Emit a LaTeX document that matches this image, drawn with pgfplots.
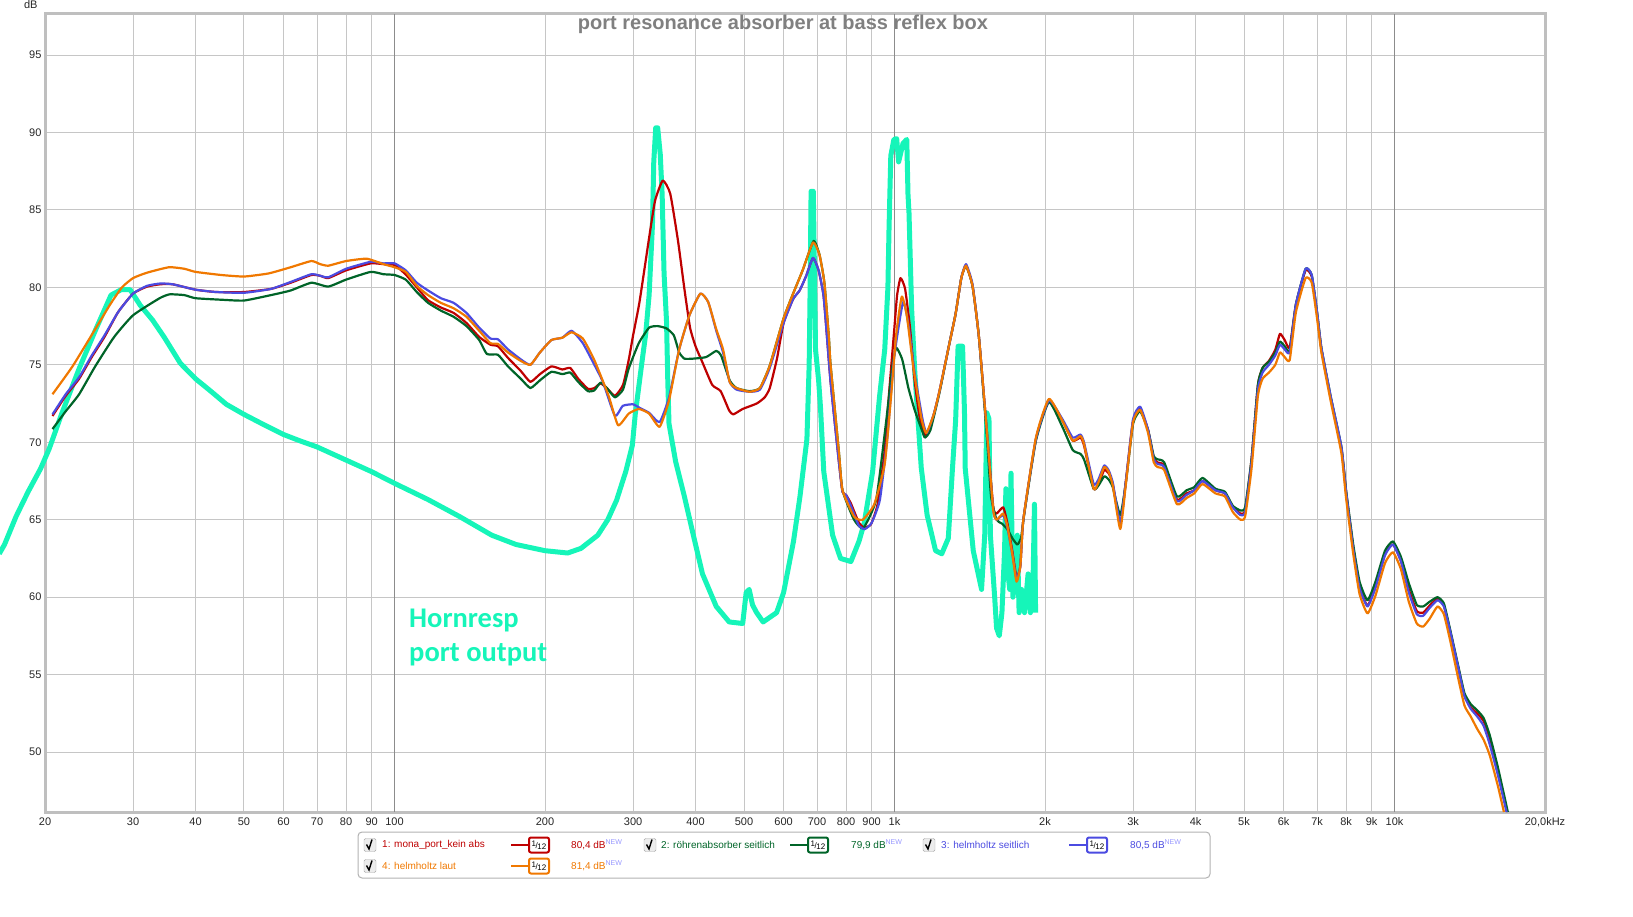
\documentclass[border=0pt]{standalone}
\usepackage{fontspec}
\setmainfont{Liberation Sans}
\newfontfamily\hornfont{Carlito}
\usepackage{pgfplots}
\pgfplotsset{compat=1.18}

\definecolor{cRed}{RGB}{190,0,0}
\definecolor{cGreen}{RGB}{0,100,40}
\definecolor{cBlue}{RGB}{75,75,225}
\definecolor{cOrange}{RGB}{240,120,0}
\definecolor{cHorn}{RGB}{22,245,185}
\definecolor{cNew}{RGB}{150,150,255}

% legend pieces (REW style)
\newcommand{\chkbox}[2]{%
  \draw[gray!70, fill=gray!15, rounded corners=1.5pt] (#1-6pt,#2-6.5pt) rectangle (#1+6pt,#2+6.5pt);
  \draw[black, line width=1.4pt] (#1-3.5pt,#2+0.5pt) -- (#1-1pt,#2-4pt) -- (#1+2pt,#2+5.5pt);}
\newcommand{\smoothsym}[3]{%
  \draw[#3, line width=2pt] (#1-17pt,#2) -- (#1+17pt,#2);
  \node[draw=#3, line width=2pt, fill=white, rounded corners=2pt, minimum width=20pt,
        minimum height=15pt, inner sep=0pt] at (#1,#2)
        {\fontsize{8}{8}\selectfont\raisebox{2pt}{1}\kern-0.5pt/\kern-0.5pt\raisebox{-1.5pt}{12}};}

\begin{document}
\begin{tikzpicture}
\useasboundingbox (0pt,0pt) rectangle (1633pt,916pt);
\begin{axis}[
  at={(45pt,104pt)}, anchor=south west,
  scale only axis, width=1500pt, height=798pt,
  xmode=log, xmin=20, xmax=20000, ymin=46.13, ymax=97.65,
  xtick={20,30,40,50,60,70,80,90,100,200,300,400,500,600,700,800,900,1000,2000,3000,4000,5000,6000,7000,8000,9000,10000,20000},
  xticklabels={20,30,40,50,60,70,80,90,100,200,300,400,500,600,700,800,900,1k,2k,3k,4k,5k,6k,7k,8k,9k,10k,{20,0kHz}},
  ytick={50,55,...,95},
  grid=major,
  major grid style={gray!45, line width=1pt},
  extra x ticks={100,1000,10000},
  extra x tick labels={},
  extra x tick style={major grid style={gray!90, line width=1pt}},
  major tick length=0pt,
  axis line style={gray!50, line width=3pt},
  tick label style={font=\fontsize{11}{13}\selectfont, text=black!85},
  xticklabel style={yshift=-2pt},
  /pgf/number format/assume math mode=true,
  clip=false,
  every axis plot/.append style={no markers, line join=round},
  rew/.style={line width=2.2pt, smooth, tension=0.3},
]
% Hornresp port output (pasted trace)
\addplot[cHorn, line width=5pt] coordinates {
(16.2,62.8)(16.6,63.4)(17.5,65.2)(18.5,66.8)(19.6,68.3)(20.4,69.6)(21.6,71.85)(23.4,74.75)(25.2,77.2)
(27.1,79.5)(28.4,79.85)(29.6,79.85)(31,78.85)(32.8,77.9)(34.6,76.8)(37.3,75.1)(40,74.1)(42.9,73.3)
(46.1,72.45)(50,71.8)(54.3,71.2)(60,70.5)(64.6,70.1)(70,69.7)(80,68.85)(90,68.1)(100,67.35)(116.7,66.3)
(135,65.2)(156.5,64.0)(175,63.4)(200,63.0)(222,62.85)(236,63.15)(255,64.0)(267,65.0)(278,66.25)(290,68.1)
(299,69.8)(303,71.8)(312,75)(318,77)(323,79.5)(328,84)(330,88.1)(333,90.3)(336,90.3)(340,88.6)(343,86)
(346,80.9)(350,77.8)(352,74)(354,71.2)(365,68.75)(380,66.5)(396,64.0)(413,61.5)(440,59.4)(467,58.4)
(497,58.3)(505,60.3)(512,60.5)(520,59.5)(530,59.0)(546,58.4)(581,59.0)(600,60.3)(628,63.6)(647,66.5)
(668,70.2)(675,75)(678,80)(681,86.2)(688,86.2)(691,82)(695,76)(705,74)(711,72.3)(722,68.1)(752,64.0)
(780,62.5)(818,62.3)(849,63.6)(870,64.8)(904,68.1)(933,72.9)(956,76.0)(970,80)(975,83.8)(983,88.5)
(997,89.55)(1010,89.6)(1019,88.1)(1040,89.3)(1058,89.55)(1064,86)(1069,84.8)(1082,78.6)(1098,74.5)
(1131,68.35)(1162,65.3)(1208,63.0)(1243,62.8)(1281,63.8)(1306,68.35)(1325,71.4)(1340,76.2)(1368,76.2)
(1380,72)(1385,68.3)(1437,63.0)(1493,60.5)(1515,64)(1530,71.9)(1545,71.5)(1555,64)(1586,60)(1600,58)
(1620,57.5)(1640,59)(1660,63)(1670,67)(1680,62)(1700,60.5)(1710,68)(1725,60)(1740,61)(1760,64)
(1775,59)(1795,60.5)(1820,59)(1850,61.5)(1870,59)(1890,60)(1905,66)(1915,59)
};
% 1: mona_port_kein abs
\addplot[cRed, rew] coordinates {
(20.7,71.7)(22,73.0)(23.4,74.1)(24.8,75.5)(26.3,76.8)(28,78.4)(30,79.6)(32,80.05)(34,80.2)(36,80.2)(40,79.85)
(44,79.7)(50,79.7)(56.6,79.9)(62,80.3)(68.2,80.8)(71,80.75)(73.7,80.6)(80,81.1)(89.6,81.55)(95,81.5)
(100,81.45)(105.3,80.83)(110.8,80.0)(116.7,79.17)(123.8,78.7)(131.3,78.35)(139.3,77.7)(147.7,76.8)
(155.5,76.3)(161,76.2)(168.6,75.45)(178.9,74.6)(187,73.9)(195.4,74.4)(206,74.9)(216.6,74.7)(224.6,74.8)
(233,74.1)(243.7,73.45)(251,73.5)(258.2,73.8)(265.8,73.5)(276,73.0)(286.4,73.7)(294,75.3)(300,76.9)
(309,79.05)(323,83.2)(332,85.6)(344,86.9)(356,86.05)(369,83.0)(380,79.9)(390,77.4)(400,76.2)(413,75.15)
(432,73.7)(449,73.3)(467,72.05)(476,71.8)(497,72.15)(530,72.5)(550,72.9)(563,73.5)(582,75.4)(600,77.7)
(627,79.25)(646,79.8)(665,80.7)(687,81.9)(705,81.1)(721,79.5)(732,77.0)(745,73.9)(774,68.75)(787,66.8)
(800,66.6)(818,66.05)(849,64.8)(870,64.5)(897,64.7)(925,66.0)(956,69.5)(977,73.5)(1000,77.5)(1012,79.5)
(1028,80.6)(1050,79.9)(1074,77.4)(1096,74.1)(1120,71.8)(1145,70.6)(1162,70.5)(1198,71.8)(1230,73.3)
(1288,76.4)(1325,78.3)(1360,80.6)(1390,81.4)(1432,80.1)(1475,76.8)(1531,70.6)(1576,65.8)(1600,65.4)
(1650,65.8)(1681,64.8)(1720,63.0)(1754,61.3)(1785,62.0)(1810,65.0)(1918,70.2)(2036,72.7)(2166,71.4)
(2272,70.1)(2354,70.3)(2393,69.8)(2502,67.0)(2557,67.3)(2626,68.2)(2680,68.0)(2732,67.3)(2828,64.7)
(2902,67.5)(3000,71.4)(3100,72.15)(3214,70.8)(3300,69.0)(3359,68.7)(3463,68.5)(3672,66.3)(3838,66.7)
(3976,66.9)(4130,67.5)(4383,66.9)(4580,66.7)(4748,65.85)(4917,65.4)(5025,65.6)(5176,68.9)(5330,73.7)
(5446,74.8)(5608,75.25)(5775,75.97)(5900,77.0)(6030,76.6)(6170,76.1)(6350,78.9)(6640,81.1)(6830,80.7)
(7000,78.3)(7140,76.0)(7460,72.8)(7830,69.6)(8000,66.8)(8268,63.2)(8513,60.7)(8830,59.45)(9160,60.7)
(9570,62.8)(9927,63.4)(10300,62.35)(10680,60.5)(11080,59.1)(11410,59.0)(11750,59.45)(12190,59.9)
(12550,59.45)(12920,57.8)(13400,55.5)(13800,53.65)(14200,52.9)(14630,52.5)(15070,52.0)(15500,50.9)
(16100,48.8)(16800,46.13)
};
% 2: roehrenabsorber seitlich
\addplot[cGreen, rew] coordinates {
(20.7,70.85)(22,72.0)(23.4,73.1)(25.2,74.9)(27.5,76.8)(30,78.2)(33.9,79.3)(35.5,79.55)(38,79.5)(40,79.3)
(45.2,79.2)(50,79.15)(56.6,79.5)(62,79.8)(68.2,80.3)(73.7,80.05)(80,80.5)(89.6,81.0)(95,80.85)(100,80.8)
(105.3,80.5)(110.8,79.7)(116.7,79.0)(123.8,78.5)(131.3,78.1)(139.3,77.5)(147.7,76.6)(153,75.7)(161,75.65)
(168.6,74.9)(178.9,74.1)(187,73.5)(195.4,74.0)(206,74.55)(216.6,74.4)(224.6,74.5)(233,73.9)(243.7,73.3)
(251,73.35)(258.2,73.85)(265.8,73.5)(276,72.9)(286.4,73.4)(294,74.75)(308,76.4)(323,77.4)(336,77.5)
(350,77.35)(362,76.9)(371,75.8)(380,75.4)(396,75.4)(420,75.5)(440,75.9)(450,75.6)(468,74.0)(483,73.5)
(513,73.3)(538,73.5)(563,74.95)(600,78.0)(627,79.6)(655,81.1)(689,83.0)(708,82.1)(724,80.3)(739,76.8)
(745,75.0)(774,69.4)(787,66.9)(830,65.0)(866,64.45)(919,66.3)(961,71.2)(990,74.9)(1008,76.1)(1036,75.35)
(1066,73.5)(1098,72.05)(1131,70.9)(1150,70.3)(1180,70.8)(1230,73.2)(1288,76.4)(1325,78.3)(1360,80.6)
(1390,81.4)(1432,80.1)(1475,76.8)(1531,70.2)(1560,66.5)(1600,65.0)(1640,64.75)(1680,64.4)(1721,63.8)
(1760,63.4)(1790,63.8)(1820,65.5)(1918,70.1)(2036,72.6)(2166,71.0)(2272,69.5)(2354,69.25)(2393,68.9)
(2502,67.0)(2557,67.2)(2626,67.8)(2680,67.6)(2732,67.1)(2828,65.3)(2902,67.4)(3000,71.2)(3100,72.0)
(3214,70.8)(3300,69.1)(3359,68.9)(3463,68.7)(3672,66.5)(3838,66.9)(3976,67.1)(4130,67.7)(4383,67.0)
(4580,66.8)(4748,65.9)(4917,65.6)(5025,65.8)(5176,68.9)(5330,73.7)(5446,74.8)(5608,75.2)(5775,75.8)
(5900,76.5)(6030,76.2)(6170,75.9)(6350,78.9)(6640,81.2)(6830,80.8)(7000,78.4)(7140,76.1)(7460,72.9)
(7830,69.7)(8000,66.9)(8268,63.4)(8513,61.0)(8830,59.8)(9160,61.0)(9570,63.0)(9927,63.6)(10300,62.6)
(10680,60.9)(11080,59.5)(11410,59.4)(11750,59.7)(12190,60.0)(12550,59.6)(12920,57.9)(13400,55.6)
(13800,53.8)(14200,53.1)(14630,52.7)(15070,52.2)(15500,51.1)(16100,49.0)(16850,46.13)
};
% 3: helmholtz seitlich
\addplot[cBlue, rew] coordinates {
(20.7,71.8)(22,73.1)(23.4,74.2)(24.8,75.6)(26.3,76.9)(28,78.4)(30,79.6)(32,80.1)(34,80.25)(36,80.2)
(40,79.85)(44,79.7)(50,79.65)(56.6,79.9)(62,80.35)(68.2,80.85)(71,80.75)(73.7,80.65)(80,81.2)(89.6,81.65)
(95,81.55)(100,81.55)(105.3,81.1)(110.8,80.3)(116.7,79.8)(123.8,79.3)(131.3,79.0)(139.3,78.35)(147.7,77.4)
(155.5,76.7)(161,76.65)(168.6,76.0)(178.9,75.35)(187,75.0)(195.4,75.8)(206,76.6)(216.6,76.75)(226,77.2)
(238,76.4)(251,75.0)(261,73.9)(276,71.7)(286,72.35)(300,72.45)(310,72.2)(323,71.9)(339,71.3)(354,72.9)
(371,76.0)(389,78.2)(409,79.6)(424,79.05)(440,77.2)(454,75.8)(468,73.9)(483,73.4)(513,73.26)(538,73.4)
(563,74.8)(600,77.7)(627,79.25)(646,79.8)(665,80.7)(687,81.9)(705,81.1)(721,79.5)(732,77.0)(745,73.9)
(774,68.75)(787,66.8)(800,66.6)(818,65.9)(849,64.6)(873,64.4)(900,64.8)(935,66.3)(968,70.4)(997,75.35)
(1040,79.05)(1066,77.6)(1098,74.4)(1139,71.4)(1160,70.6)(1198,71.8)(1230,73.3)(1288,76.4)(1325,78.3)
(1360,80.6)(1390,81.5)(1432,80.2)(1475,76.8)(1531,70.6)(1576,65.6)(1600,65.0)(1650,65.3)(1681,64.5)
(1720,62.8)(1754,61.2)(1785,62.0)(1810,65.0)(1918,70.2)(2036,72.7)(2166,71.5)(2272,70.3)(2354,70.5)
(2393,70.0)(2502,67.3)(2557,67.6)(2626,68.5)(2680,68.2)(2732,67.4)(2828,64.8)(2902,67.5)(3000,71.5)
(3100,72.3)(3214,70.8)(3300,68.9)(3359,68.6)(3463,68.4)(3672,66.2)(3838,66.6)(3976,66.9)(4130,67.5)
(4383,66.9)(4580,66.7)(4748,65.8)(4917,65.3)(5025,65.5)(5176,68.7)(5330,73.4)(5446,74.5)(5608,75.0)
(5775,75.6)(5900,76.3)(6030,76.0)(6170,75.8)(6350,78.9)(6640,81.2)(6830,80.8)(7000,78.4)(7140,76.1)
(7460,72.9)(7830,69.7)(8000,66.8)(8268,63.1)(8513,60.6)(8830,59.4)(9160,60.6)(9570,62.7)(9927,63.4)
(10300,62.3)(10680,60.3)(11080,58.9)(11410,58.8)(11750,59.3)(12190,59.8)(12550,59.4)(12920,57.8)
(13400,55.5)(13800,53.6)(14200,52.8)(14630,52.3)(15070,51.7)(15500,50.5)(16100,48.5)(16750,46.13)
};
% 4: helmholtz laut
\addplot[cOrange, rew] coordinates {
(20.7,73.1)(22.7,74.9)(25.2,77.3)(27,78.9)(28.5,80.0)(30,80.6)(32,80.95)(35.4,81.3)(38,81.2)(40,81.0)
(45,80.8)(50,80.7)(56,80.9)(62,81.3)(68.2,81.7)(71,81.5)(73.7,81.4)(80,81.7)(88,81.85)(95,81.5)(100,81.3)
(105.3,81.0)(110.8,80.1)(116.7,79.5)(123.8,79.0)(131.3,78.65)(139.3,78.1)(147.7,77.2)(155.5,76.4)
(161,76.35)(168.6,75.8)(178.9,75.25)(187,75.0)(195.4,75.8)(206,76.6)(216.6,76.75)(226,77.1)(238,76.7)
(251,75.3)(268,73.0)(280,71.1)(294,71.85)(308,72.15)(323,71.85)(339,71.0)(354,72.7)(371,76.0)(389,78.2)
(409,79.6)(424,79.05)(440,77.3)(454,76.0)(468,73.9)(483,73.5)(513,73.26)(538,73.5)(563,74.95)(600,78.0)
(627,79.6)(655,81.1)(687,82.9)(708,82.1)(724,80.3)(739,76.8)(745,75.0)(774,69.4)(787,66.9)(830,65.2)
(864,65.0)(911,66.0)(956,68.6)(985,73.1)(1008,77.0)(1034,79.4)(1058,78.2)(1090,74.9)(1131,71.6)
(1157,70.6)(1198,71.8)(1230,73.3)(1288,76.4)(1325,78.3)(1360,80.6)(1390,81.4)(1432,80.1)(1475,76.8)
(1531,70.6)(1576,65.6)(1600,65.0)(1650,65.4)(1681,64.6)(1720,62.8)(1754,61.0)(1785,62.0)(1810,65.0)
(1918,70.3)(2036,72.8)(2166,71.4)(2272,70.1)(2354,70.4)(2393,69.9)(2502,67.0)(2557,67.4)(2626,68.4)
(2680,68.1)(2732,67.2)(2828,64.4)(2902,67.3)(3000,71.3)(3100,72.1)(3214,70.6)(3300,68.7)(3359,68.4)
(3463,68.2)(3672,66.0)(3838,66.4)(3976,66.7)(4130,67.3)(4383,66.7)(4580,66.5)(4748,65.5)(4917,65.0)
(5025,65.2)(5176,68.3)(5330,73.0)(5446,74.1)(5608,74.5)(5775,75.0)(5900,75.8)(6030,75.5)(6170,75.3)
(6350,78.4)(6640,80.6)(6830,80.3)(7000,78.0)(7140,75.8)(7460,72.6)(7830,69.3)(8000,66.4)(8268,62.8)
(8513,60.2)(8830,58.95)(9160,60.1)(9570,62.2)(9927,62.9)(10300,61.8)(10680,59.7)(11080,58.3)(11410,58.1)
(11750,58.6)(12190,59.4)(12550,58.9)(12920,57.2)(13400,54.8)(13800,53.0)(14200,52.3)(14630,51.5)
(15070,50.8)(15500,49.8)(16100,47.8)(16550,46.13)
};
\end{axis}

% titles and notes
\node[anchor=base, font=\bfseries\fontsize{20}{24}\selectfont, text=gray] at (783pt,886pt)
  {port resonance absorber at bass reflex box};
\node[anchor=base east, font=\fontsize{11}{13}\selectfont, text=black!85] at (41pt,907pt) {dB};
\node[anchor=base west, font=\hornfont\bfseries\fontsize{28.5}{34}\selectfont, text=cHorn, inner sep=0pt]
  at (409pt,288pt) {Hornresp};
\node[anchor=base west, font=\hornfont\bfseries\fontsize{28.5}{34}\selectfont, text=cHorn, inner sep=0pt]
  at (409pt,254pt) {port output};

% legend box
\draw[gray!60, line width=1pt, rounded corners=4pt] (358pt,38pt) rectangle (1210pt,84pt);
\begin{scope}[every node/.style={anchor=west, inner sep=0pt, font=\fontsize{10}{12}\selectfont}]
  \chkbox{370pt}{71pt}
  \node[text=cRed] at (382pt,71pt) {1: mona\_port\_kein abs};
  \smoothsym{528pt}{71pt}{cRed}
  \node[text=cRed] at (571pt,71pt) {80,4 dB\textsuperscript{\textcolor{cNew}{NEW}}};
  \chkbox{650pt}{71pt}
  \node[text=cGreen] at (661pt,71pt) {2: röhrenabsorber seitlich};
  \smoothsym{807pt}{71pt}{cGreen}
  \node[text=cGreen] at (851pt,71pt) {79,9 dB\textsuperscript{\textcolor{cNew}{NEW}}};
  \chkbox{929pt}{71pt}
  \node[text=cBlue] at (941pt,71pt) {3: helmholtz seitlich};
  \smoothsym{1086pt}{71pt}{cBlue}
  \node[text=cBlue] at (1130pt,71pt) {80,5 dB\textsuperscript{\textcolor{cNew}{NEW}}};
  \chkbox{370pt}{50pt}
  \node[text=cOrange] at (382pt,50pt) {4: helmholtz laut};
  \smoothsym{528pt}{50pt}{cOrange}
  \node[text=cOrange] at (571pt,50pt) {81,4 dB\textsuperscript{\textcolor{cNew}{NEW}}};
\end{scope}
\end{tikzpicture}
\end{document}
